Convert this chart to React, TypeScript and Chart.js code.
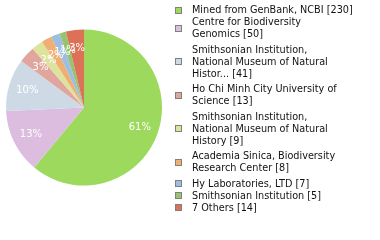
import React, { useEffect, useRef } from "react";
import { Chart, registerables } from "chart.js";

Chart.register(...registerables);

const categories: string[] = [
  "Mined from GenBank, NCBI",
  "Centre for Biodiversity Genomics",
  "Smithsonian Institution, National Museum of Natural Histor...",
  "Ho Chi Minh City University of Science",
  "Smithsonian Institution, National Museum of Natural History",
  "Academia Sinica, Biodiversity Research Center",
  "Hy Laboratories, LTD",
  "Smithsonian Institution",
  "7 Others",
];
const counts: number[] = [230, 50, 41, 13, 9, 8, 7, 5, 14];
const colors: string[] = [
  "#9dd95c",
  "#dcbcdf",
  "#cddae6",
  "#e0a59c",
  "#dde39c",
  "#f0ae72",
  "#9ebde2",
  "#96c46c",
  "#dd7158",
];

const LEGEND_FONT = "9.7px 'DejaVu Sans', sans-serif";
const LABEL_FONT = "10px 'DejaVu Sans', sans-serif";
const WRAP_CHARS = 30;

function wrapText(text: string, maxChars: number): string[] {
  const words = text.split(" ");
  const lines: string[] = [];
  let cur = "";
  for (const w of words) {
    const cand = cur ? cur + " " + w : w;
    if (cand.length > maxChars && cur) {
      lines.push(cur);
      cur = w;
    } else {
      cur = cand;
    }
  }
  if (cur) lines.push(cur);
  return lines;
}

const pieLabels = {
  id: "pieLabels",
  afterDatasetsDraw(chart: any) {
    const ctx = chart.ctx;
    const meta = chart.getDatasetMeta(0);
    const data = chart.data.datasets[0].data as number[];
    const total = data.reduce((a, b) => a + b, 0);
    ctx.save();
    ctx.font = LABEL_FONT;
    ctx.fillStyle = "#ffffff";
    ctx.textAlign = "center";
    ctx.textBaseline = "middle";
    meta.data.forEach((arc: any, i: number) => {
      const p = arc.getProps(["x", "y", "startAngle", "endAngle", "outerRadius"], true);
      const a = (p.startAngle + p.endAngle) / 2;
      const r = p.outerRadius * 0.76;
      const pct = Math.floor((data[i] / total) * 100);
      ctx.fillText(pct + "%", p.x + Math.cos(a) * r, p.y + Math.sin(a) * r);
    });
    ctx.restore();
  },
};

const legendPlugin = {
  id: "sideLegend",
  afterDraw(chart: any) {
    const ctx = chart.ctx;
    const labels = chart.data.labels as string[];
    const data = chart.data.datasets[0].data as number[];
    const bg = chart.data.datasets[0].backgroundColor as string[];
    const lineH = 12;
    const gapAfterMulti = 3.5;
    const textX = 192;
    const boxX = 175.5;
    const boxS = 6;
    let baseline = 13;
    ctx.save();
    ctx.font = LEGEND_FONT;
    ctx.textAlign = "left";
    ctx.textBaseline = "alphabetic";
    labels.forEach((lab, i) => {
      const lines = wrapText(lab + " [" + data[i] + "]", WRAP_CHARS);
      const firstBase = baseline;
      lines.forEach((ln, j) => {
        ctx.fillStyle = "#111111";
        ctx.fillText(ln, textX, firstBase + j * lineH);
      });
      const lastBase = firstBase + (lines.length - 1) * lineH;
      const centerY = (firstBase + lastBase) / 2 - 3.5;
      ctx.fillStyle = bg[i];
      ctx.fillRect(boxX, Math.round(centerY - boxS / 2) + 0.5, boxS, boxS);
      ctx.strokeStyle = "#808080";
      ctx.lineWidth = 1;
      ctx.strokeRect(boxX, Math.round(centerY - boxS / 2) + 0.5, boxS, boxS);
      baseline = lastBase + lineH + (lines.length > 1 ? gapAfterMulti : 0);
    });
    ctx.restore();
  },
};

export default function App() {
  const ref = useRef<HTMLCanvasElement>(null);
  useEffect(() => {
    document.body.style.margin = "0";
    const canvas = ref.current!;
    const chart = new Chart(canvas, {
      type: "pie",
      data: {
        labels: categories,
        datasets: [
          {
            data: counts,
            backgroundColor: colors,
            borderWidth: 0,
          },
        ],
      },
      options: {
        responsive: false,
        animation: false,
        devicePixelRatio: 1,
        layout: { padding: { left: 6, right: 218, top: 29.5, bottom: 54.5 } },
        plugins: {
          legend: { display: false },
          tooltip: { enabled: false },
        },
      },
      plugins: [pieLabels, legendPlugin],
    });
    return () => chart.destroy();
  }, []);
  return (
    <div style={{ width: 380, height: 240, background: "#fff" }}>
      <canvas ref={ref} width={380} height={240} />
    </div>
  );
}
